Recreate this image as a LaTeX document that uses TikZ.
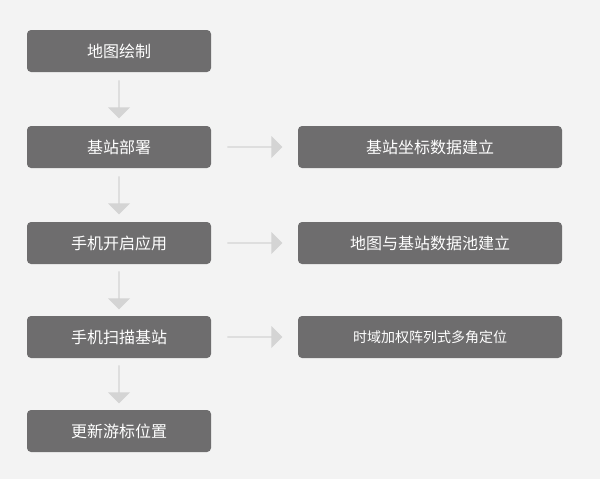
\documentclass[tikz,border=0pt]{standalone}
\usepackage{fontspec}
\newfontfamily\cjk{Noto Sans CJK SC}
\usetikzlibrary{shapes.arrows, positioning, calc}
\definecolor{boxgray}{HTML}{6E6D6E}
\definecolor{arrowgray}{HTML}{D4D4D4}
\definecolor{bggray}{HTML}{F3F3F3}
\tikzset{
  stepbox/.style={
    rectangle, fill=boxgray, rounded corners=4pt, minimum width=184pt, minimum height=42pt,
    align=center, text=white, font=\cjk\fontsize{16}{18}\selectfont, inner sep=0pt
  },
  infobox/.style={stepbox, minimum width=264pt},
  blockarrow/.style={single arrow, fill=arrowgray, inner sep=0pt, single arrow head extend=4pt,
    minimum width=22pt, minimum height=38pt, single arrow tip angle=90},
}
\begin{document}
\begin{tikzpicture}[x=1pt, y=-1pt]
    \fill[bggray] (0,0) rectangle (600,479);
    \useasboundingbox (0,0) rectangle (600,479);

    % left column
    \node[stepbox] (draw)   at (119,51)  {地图绘制};
    \node[stepbox] (deploy) at (119,147) {基站部署};
    \node[stepbox] (app)    at (119,243) {手机开启应用};
    \node[stepbox] (scan)   at (119,337) {手机扫描基站};
    \node[stepbox] (update) at (119,431) {更新游标位置};

    % right column
    \node[infobox] (coord) at (430,147) {基站坐标数据建立};
    \node[infobox] (pool)  at (430,243) {地图与基站数据池建立};
    \node[infobox, font=\cjk\fontsize{14}{16}\selectfont] (locate) at (430,337) {时域加权阵列式多角定位};

    % arrows
    \foreach \a/\b in {draw/deploy, deploy/app, app/scan, scan/update}
      \node[blockarrow, rotate=-90] at ($(\a.south)!0.5!(\b.north)$) {};
    \foreach \a/\b in {deploy/coord, app/pool, scan/locate}
      \node[blockarrow, minimum height=55pt] at ($(\a.east)!0.5!(\b.west)$) {};
\end{tikzpicture}
\end{document}
